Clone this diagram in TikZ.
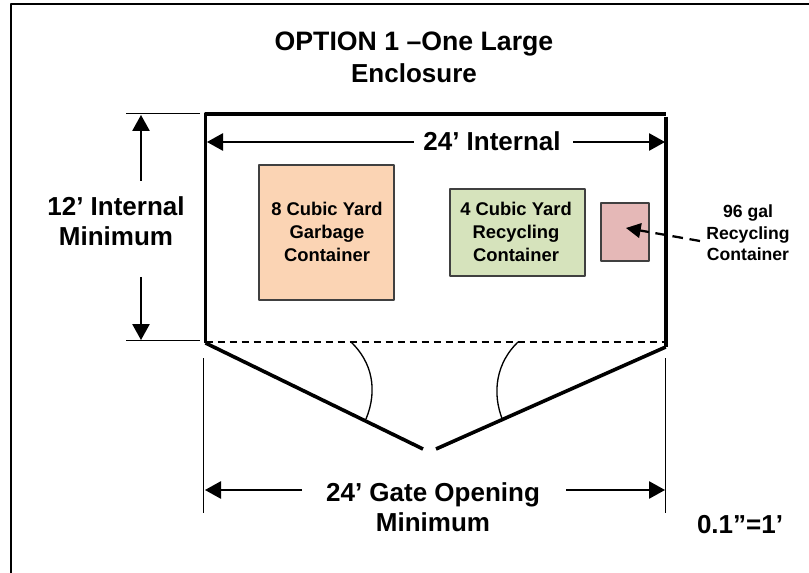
\documentclass[tikz,border=0pt]{standalone}
\usepackage{fontspec}
\setmainfont{Liberation Sans}
\usetikzlibrary{arrows.meta}
\definecolor{garbagefill}{HTML}{FBD4B4}
\definecolor{recyclefill}{HTML}{D6E3BC}
\definecolor{cartfill}{HTML}{E5B8B7}
\tikzset{
wall/.style={line width=2.7pt},
dimline/.style={line width=1.2pt,-{Triangle[length=12pt,width=13pt]}},
bound/.style={line width=1pt},
bin/.style={draw=black!75,line width=1.1pt,inner sep=0pt},
bigtext/.style={font=\fontsize{19.5}{22.5}\selectfont\bfseries,align=center},
smalltext/.style={font=\fontsize{13.8}{16}\selectfont\bfseries,align=center}
}
\begin{document}
\begin{tikzpicture}[x=0.75pt,y=-0.75pt,line join=round]
\useasboundingbox (0,0) rectangle (809,573);
% khung ngoai
\draw[line width=1.5pt] (11,573)--(11,4)--(809,4);
% tieu de
\node[bigtext,font=\fontsize{20}{23}\selectfont\bfseries] (title) at (414,44.5) {OPTION 1 –One Large};
\node[bigtext] (titleb) at (414,73) {Enclosure};
% cac goc
\coordinate (tl) at (205.5,114);
\coordinate (tr) at (665.7,114);
\coordinate (bl) at (205.5,343);
\coordinate (br) at (665.7,347);
\coordinate (gatel) at (423,449);
\coordinate (gater) at (436,449);
%tuong rao
\draw[wall] (bl)--(tl)--(tr);
\draw[wall] (665.7,117)--(br);
\draw[wall] (bl)--(gatel);
\draw[wall] (br)--(gater);
\draw[dashed,line width=.9pt,dash pattern=on 5.5pt off 3.5pt] (bl)++(0,-1)--(665,342);
% thung rac
\node[bin,fill=garbagefill,minimum width=101pt,minimum height=101pt] (garbage) at (326.5,232.5) {};
\node[bin,fill=recyclefill,minimum width=101pt,minimum height=65pt] (recycle) at (517.5,232.5) {};
\node[bin,fill=cartfill,minimum width=36pt,minimum height=43.5pt] (cart) at (625,232) {};
\node[smalltext] at (327,232) {8 Cubic Yard\\[1pt]Garbage\\[1pt]Container};
\node[smalltext] at (516,232) {4 Cubic Yard\\[1pt]Recycling\\[1pt]Container};
\node[smalltext,font=\fontsize{13.2}{16}\selectfont\bfseries] (cartlabel) at (748,233) {96 gal\\Recycling\\Container};
\draw[line width=1.7pt,dash pattern=on 8pt off 5pt,-{Triangle[length=11pt,width=11pt]}] (700,241)--(626,228);
% kich thuoc 12
\node[bigtext] (depth) at (116,221) {12’ Internal\\[0pt]Minimum};
\coordinate (dtop) at (141,181);
\coordinate (dbot) at (141,277);
\draw[dimline] (dtop)--(141,115);
\draw[dimline] (dbot)--(141,340);
\foreach \y in {113.5,340.7}
\draw[bound] (126,\y)--(200,\y);
% kich thuoc 24
\node[bigtext] (width) at (492,141) {24’ Internal};
\draw[dimline] (width.west)++(-5,1)--(207,142);
\draw[dimline] (width.east)++(8,1)--(665,142);
% cong
\foreach \x in {203.5,665.7}
\draw[bound] (\x,358)--(\x,513);
\node[bigtext] (gate) at (433,507) {24’ Gate Opening\\[0pt]Minimum};
\draw[dimline] (302,490)--(205,490);
\draw[dimline] (566,490)--(665,490);
\node[bigtext] (scale) at (740,525) {0.1”=1’};
% cung goc
\draw[bound] (351,342) .. controls (372,362) and (378,390) .. (366,419);
\draw[bound] (518,342) .. controls (497,362) and (491,392) .. (503,421);
\end{tikzpicture}
\end{document}
